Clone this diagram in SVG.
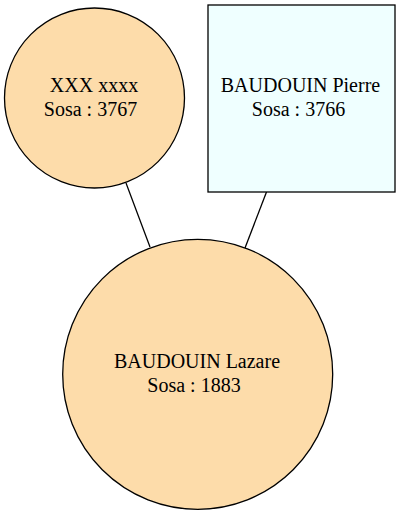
<svg xmlns="http://www.w3.org/2000/svg" width="400" height="515" viewBox="0 0 400 515">
<style>
.n{stroke:#000;stroke-width:1.3}
.f{fill:#fddcaa}
.m{fill:#efffff}
text{font-family:"Liberation Serif","Times New Roman",serif;font-size:20px;text-anchor:middle;fill:#000}
.e{stroke:#000;stroke-width:1.3;fill:none}
</style>
<rect width="400" height="515" fill="#fff"/>
<g id="edges">
<line class="e" x1="126" y1="183" x2="150" y2="247"/>
<line class="e" x1="266.5" y1="192" x2="245" y2="248"/>
</g>
<g id="node-3767">
<circle class="n f" cx="94.5" cy="98" r="90"/>
<text x="94" y="92">XXX xxxx</text>
<text x="90.5" y="115.5">Sosa : 3767</text>
</g>
<g id="node-3766">
<rect class="n m" x="208" y="5" width="187" height="187"/>
<text x="300.5" y="92">BAUDOUIN Pierre</text>
<text x="298.5" y="115.5">Sosa : 3766</text>
</g>
<g id="node-1883">
<circle class="n f" cx="197.7" cy="374.3" r="135"/>
<text x="197" y="368">BAUDOUIN Lazare</text>
<text x="194" y="391.5">Sosa : 1883</text>
</g>
</svg>
